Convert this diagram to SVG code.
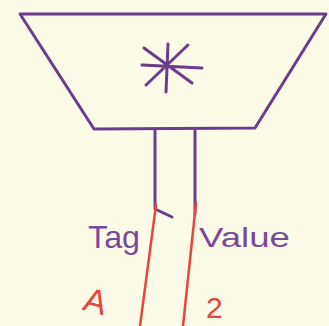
<svg xmlns="http://www.w3.org/2000/svg" width="329" height="326" viewBox="0 0 329 326">
<style>
.p{fill:none;stroke:#6b3d8c;stroke-width:3;stroke-linecap:round;stroke-linejoin:round}
.r{fill:none;stroke:#e8453c;stroke-width:2.5;stroke-linecap:round}
.tp{fill:#7a4a98;font-family:"Liberation Sans",sans-serif}
.tr{fill:#e8453c;font-family:"Liberation Sans",sans-serif}
</style>
<rect width="329" height="326" fill="#fbfbe8"/>
<g id="struct">
<path class="p" d="M20,14 L326,14 L255,128 L94,129 Z"/>
<path class="p" d="M168,44 L166,92 M142,65 L202,68 M144,48 L192,83 M188,45 L146,85"/>
</g>
<g id="connectors">
<path class="p" d="M155,130 L155,209 L172,217"/>
<path class="p" d="M195,130 L195,214"/>
<path class="r" d="M156,205 L140,326"/>
<path class="r" d="M196,203 L183,326"/>
</g>
<g id="tag"><text class="tp" x="88" y="248" font-size="32" textLength="52" lengthAdjust="spacingAndGlyphs">Tag</text></g>
<g id="value"><text class="tp" x="199" y="247" font-size="28" textLength="91" lengthAdjust="spacingAndGlyphs">Value</text></g>
<g id="a"><text class="tr" x="84" y="314" font-size="34" transform="rotate(15 100 302)">A</text></g>
<g id="two"><text class="tr" x="206" y="318" font-size="30">2</text></g>
</svg>
